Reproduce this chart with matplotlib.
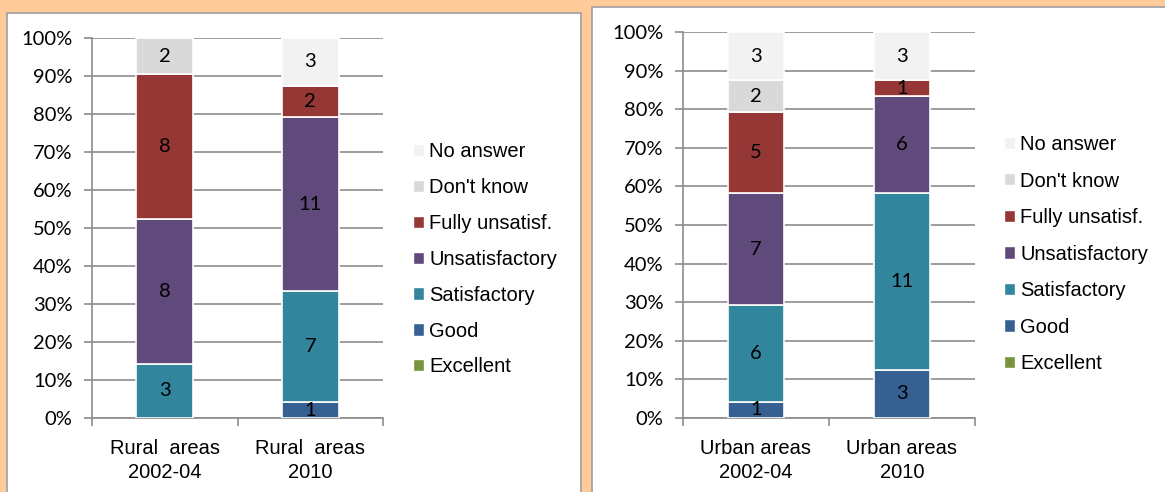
import matplotlib.pyplot as plt
from matplotlib.patches import Rectangle, Patch
import numpy as np

categories = ["Excellent", "Good", "Satisfactory", "Unsatisfactory",
              "Fully unsatisf.", "Don't know", "No answer"]
colors = ["#77933C", "#376092", "#31859C", "#604A7B", "#953735", "#D9D9D9", "#F2F2F2"]

rural_labels = ["Rural  areas\n2002-04", "Rural  areas\n2010"]
rural_2002 = [0, 0, 3, 8, 8, 2, 0]
rural_2010 = [0, 1, 7, 11, 2, 0, 3]

urban_labels = ["Urban areas\n2002-04", "Urban areas\n2010"]
urban_2002 = [0, 1, 6, 7, 5, 2, 3]
urban_2010 = [0, 3, 11, 6, 1, 0, 3]

W, H = 1165, 492
fig = plt.figure(figsize=(W / 100, H / 100), dpi=100)
fig.patch.set_facecolor("#FFCB9A")

# white panels
fig.patches.append(Rectangle((7 / W, -0.05), (581 - 7) / W, (H - 13) / H + 0.05,
                             transform=fig.transFigure, facecolor="white",
                             edgecolor="#A0A0A0", lw=1.2, zorder=-5))
fig.patches.append(Rectangle((592 / W, -0.05), 0.6, (H - 7) / H + 0.05,
                             transform=fig.transFigure, facecolor="white",
                             edgecolor="#A0A0A0", lw=1.2, zorder=-5))

grid_c = "#8C8C8C"


def draw(ax, data, labels, legend_anchor, spacing):
    data = np.array(data, dtype=float)
    totals = data.sum(axis=1)
    pct = data / totals[:, None] * 100
    x = np.arange(len(labels))
    bottom = np.zeros(len(labels))
    for i, cat in enumerate(categories):
        ax.bar(x, pct[:, i], bottom=bottom, width=0.39, color=colors[i],
               edgecolor="white", linewidth=1.2, zorder=3, label=cat)
        for j in range(len(labels)):
            if data[j, i] > 0:
                ax.text(x[j], bottom[j] + pct[j, i] / 2, "%d" % data[j, i],
                        ha="center", va="center", fontsize=14.5,
                        family="Lato", color="black", zorder=4)
        bottom += pct[:, i]
    ax.set_xlim(-0.5, 1.5)
    ax.set_ylim(0, 100)
    ax.set_yticks(np.arange(0, 101, 10))
    ax.set_yticklabels(["%d%%" % v for v in range(0, 101, 10)],
                       family="Lato", fontsize=14.5)
    ax.set_xticks(x)
    ax.set_xticklabels(labels, family="Liberation Sans", fontsize=14.5,
                       linespacing=1.35)
    ax.set_xticks([-0.5, 0.5, 1.5], minor=True)
    ax.tick_params(axis="x", which="major", length=0, pad=15)
    ax.tick_params(axis="x", which="minor", length=6, color=grid_c, width=1.2)
    ax.tick_params(axis="y", length=6, color=grid_c, width=1.2, pad=8)
    ax.grid(axis="y", color=grid_c, lw=1.2, zorder=0)
    ax.set_axisbelow(True)
    for s in ["top", "right"]:
        ax.spines[s].set_visible(False)
    for s in ["left", "bottom"]:
        ax.spines[s].set_color(grid_c)
        ax.spines[s].set_linewidth(1.2)
    ax.patch.set_alpha(0)
    handles = [Patch(facecolor=colors[i], edgecolor="white") for i in range(len(categories))][::-1]
    fig.legend(handles, categories[::-1], loc="upper left",
               bbox_to_anchor=legend_anchor, frameon=False,
               prop={"family": "Liberation Sans", "size": 14.5},
               handlelength=0.55, handleheight=0.55, handletextpad=0.25,
               labelspacing=spacing, borderpad=0, borderaxespad=0)


ax1 = fig.add_axes([92 / W, (H - 418) / H, (383 - 92) / W, (418 - 38) / H])
draw(ax1, [rural_2002, rural_2010], rural_labels, (413 / W, 1 - 142 / H), 0.84)

ax2 = fig.add_axes([683 / W, (H - 418) / H, (975 - 683) / W, (418 - 32) / H])
draw(ax2, [urban_2002, urban_2010], urban_labels, (1004 / W, 1 - 135 / H), 0.87)

fig.savefig("out.png", dpi=100, facecolor=fig.get_facecolor())
